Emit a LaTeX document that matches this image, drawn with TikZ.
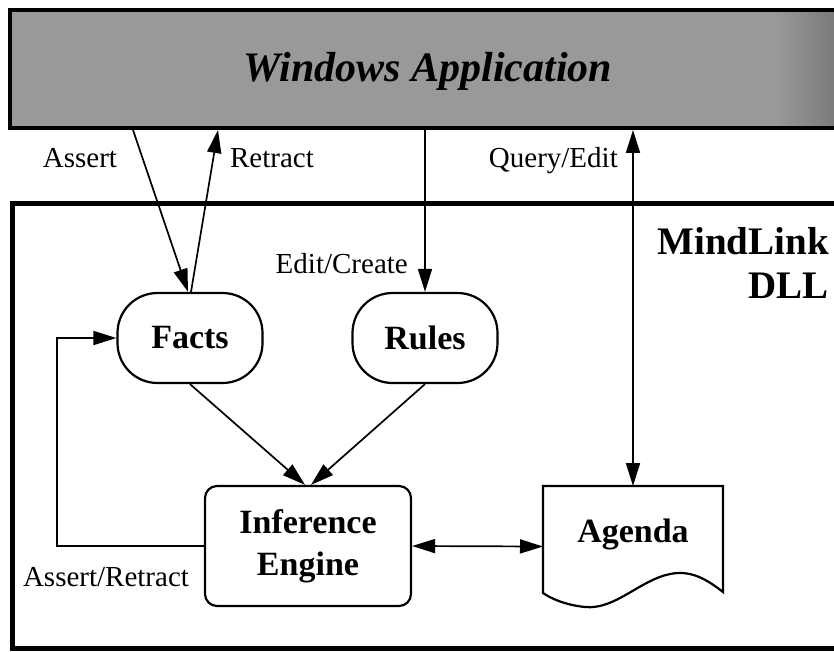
\documentclass[tikz,border=0pt]{standalone}
\usepackage{fontspec}
\setmainfont{Liberation Serif}
\usetikzlibrary{arrows.meta,calc}
\begin{document}
\begin{tikzpicture}[x=1pt,y=-1pt,
  lbl/.style={font=\fontsize{29}{32}\selectfont, inner sep=0},
  big/.style={font=\bfseries\fontsize{34}{42}\selectfont, align=center, inner sep=0},
  pill/.style={draw, line width=2.2, rounded corners=40, minimum width=145, minimum height=90, big},
  tip/.tip={Triangle[length=23pt,width=14pt]},
  conn/.style={line width=1.7, -tip},
  dconn/.style={line width=1.7, tip-tip},
]
\useasboundingbox (0,0) rectangle (834,652);
\clip (0,0) rectangle (834,652);
\fill[white] (0,0) rectangle (834,652);

% Windows application bar
\node[line width=4, fill=black!40, minimum width=850, minimum height=118, anchor=north west, inner sep=0, outer sep=0] (win) at (10,10) {};
\shade[left color=black!40, right color=black!52] (775,10) rectangle (834,128);
\draw[line width=4] (860,10) -- (10,10) -- (10,128) -- (860,128);
\node[font=\bfseries\itshape\fontsize{42}{50}\selectfont, anchor=base, inner sep=0] (wintext) at (428,82) {Windows Application};

% MindLink DLL frame
\draw[line width=5] (12,204) rectangle (870,648);
\node[font=\bfseries\fontsize{39}{44}\selectfont, align=right, anchor=north east, inner sep=0] (mind) at (829,227) {MindLink\\DLL};

% nodes
\node[pill] (facts) at (190,338) {Facts};
\node[pill] (rules) at (425,338) {Rules};
\node[draw, line width=2.2, rounded corners=12, minimum width=206, minimum height=120, big] (ie) at (308,546) {Inference\\Engine};
\node[minimum width=180, minimum height=121, inner sep=0, outer sep=0] (agenda) at (633,546.5) {};
\draw[line width=2.2] (543,486) -- (723,486) -- (723,592)
  .. controls (705,578) and (690,570) .. (670,574)
  .. controls (640,580) and (615,610) .. (585,607)
  .. controls (565,605) and (550,598) .. (543,593) -- cycle;
\node[big, anchor=base] (agtext) at (633,542) {Agenda};

% coordinates on the window bar
\coordinate (wa) at (133,130);
\coordinate (wr) at (218,130);
\coordinate (wb) at (0,130);

% connectors
\draw[conn] (wa) -- ($(facts.north)+(-2,0)$);
\draw[conn] ($(facts.north)+(1,0)$) -- (wr);
\draw[conn] (rules.north |- wb) -- (rules.north);
\draw[dconn] (agenda.north) -- (agenda.north |- wb);
\draw[conn] (facts.south) -- ($(ie.north)+(-3,0)$);
\draw[conn] (rules.south) -- ($(ie.north)+(3,0)$);
\draw[dconn] (ie.east) -- (agenda.west);
\draw[conn] (ie.west) -- ++(-147,0) |- (facts.west);

% labels
\node[lbl, anchor=base] (lassert) at (80,168) {Assert};
\node[lbl, anchor=base] (lretract) at (272,168) {Retract};
\node[lbl, anchor=base east] (lquery) at (618,168) {Query/Edit};
\node[lbl, anchor=base east] (ledit) at (408,273) {Edit/Create};
\node[lbl, anchor=base] (lar) at (106,586) {Assert/Retract};
\end{tikzpicture}
\end{document}
